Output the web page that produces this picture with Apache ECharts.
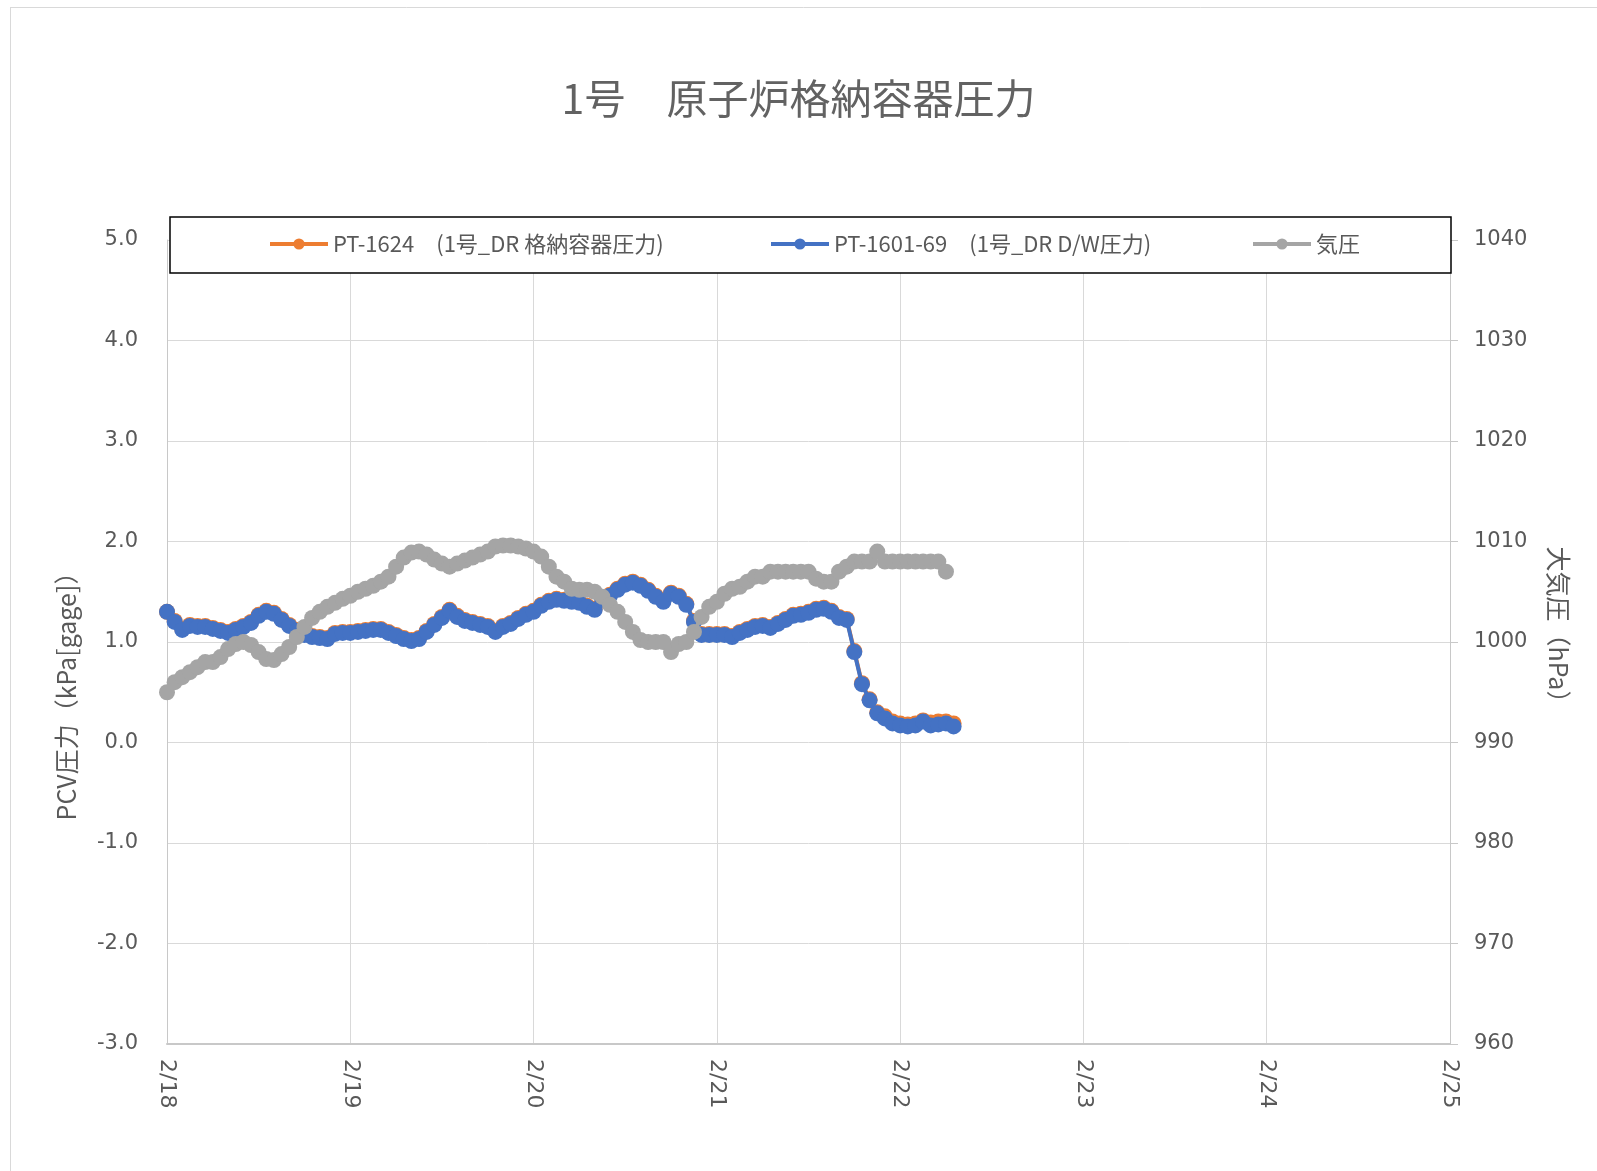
<!DOCTYPE html>
<html>
<head>
<meta charset="utf-8">
<script src="https://cdn.jsdelivr.net/npm/echarts@6/dist/echarts.min.js"></script>
<style>
  html, body { margin: 0; padding: 0; background: #fff; }
  #chart { width: 1597px; height: 1171px; }
</style>
</head>
<body>
<div id="chart"></div>
<script>
// ---- data (hourly samples starting 2/18 00:00) ----
const dayLabels = ['2/18', '2/19', '2/20', '2/21', '2/22', '2/23', '2/24', '2/25'];
const seriesNames = ['PT-1624\u3000(1号_DR 格納容器圧力)', 'PT-1601-69\u3000(1号_DR D/W圧力)', '気圧'];

// PT-1601-69 (kPa[gage])
const dw_0218 = [1.30, 1.20, 1.12, 1.16, 1.15, 1.15, 1.13, 1.11, 1.09, 1.12, 1.15, 1.19, 1.26, 1.30, 1.28, 1.22, 1.16, 1.11, 1.07, 1.05, 1.04, 1.03, 1.08, 1.09];
const dw_0219 = [1.09, 1.10, 1.11, 1.12, 1.12, 1.09, 1.06, 1.03, 1.01, 1.03, 1.10, 1.17, 1.24, 1.31, 1.25, 1.21, 1.19, 1.17, 1.15, 1.10, 1.15, 1.18, 1.23, 1.27];
const dw_0220 = [1.30, 1.36, 1.40, 1.42, 1.41, 1.40, 1.39, 1.35, 1.32, 1.42, 1.46, 1.52, 1.57, 1.59, 1.56, 1.51, 1.45, 1.40, 1.48, 1.45, 1.37, 1.20, 1.07, 1.07];
const dw_0221 = [1.07, 1.07, 1.05, 1.09, 1.12, 1.15, 1.16, 1.14, 1.18, 1.22, 1.26, 1.27, 1.29, 1.32, 1.33, 1.30, 1.24, 1.22, 0.90, 0.58, 0.42, 0.29, 0.24, 0.19];
const dw_0222 = [0.17, 0.16, 0.17, 0.21, 0.17, 0.18, 0.19, 0.16];

// PT-1624 (kPa[gage]) - almost identical to D/W
const pcv_0218 = [1.30, 1.21, 1.13, 1.17, 1.16, 1.16, 1.14, 1.12, 1.10, 1.13, 1.16, 1.20, 1.27, 1.31, 1.29, 1.23, 1.17, 1.12, 1.08, 1.06, 1.05, 1.04, 1.09, 1.10];
const pcv_0219 = [1.10, 1.11, 1.12, 1.13, 1.13, 1.10, 1.07, 1.04, 1.02, 1.04, 1.11, 1.18, 1.25, 1.32, 1.26, 1.22, 1.20, 1.18, 1.16, 1.11, 1.16, 1.19, 1.24, 1.28];
const pcv_0220 = [1.31, 1.37, 1.41, 1.43, 1.42, 1.41, 1.40, 1.36, 1.33, 1.43, 1.47, 1.53, 1.58, 1.60, 1.57, 1.52, 1.46, 1.41, 1.49, 1.46, 1.38, 1.21, 1.08, 1.08];
const pcv_0221 = [1.08, 1.08, 1.06, 1.10, 1.13, 1.16, 1.17, 1.15, 1.19, 1.23, 1.27, 1.28, 1.30, 1.33, 1.34, 1.31, 1.25, 1.23, 0.91, 0.59, 0.43, 0.30, 0.26, 0.21];
const pcv_0222 = [0.19, 0.18, 0.19, 0.22, 0.20, 0.21, 0.21, 0.19];

// 気圧 (hPa)
const atm_0218 = [995, 996, 996.5, 997, 997.5, 998, 998, 998.5, 999.3, 999.8, 1000, 999.7, 999, 998.3, 998.2, 998.8, 999.5, 1000.5, 1001.5, 1002.4, 1003, 1003.5, 1003.9, 1004.3];
const atm_0219 = [1004.6, 1005, 1005.3, 1005.6, 1006, 1006.5, 1007.5, 1008.4, 1008.9, 1009, 1008.7, 1008.2, 1007.8, 1007.5, 1007.8, 1008.1, 1008.4, 1008.7, 1009, 1009.5, 1009.6, 1009.6, 1009.5, 1009.3];
const atm_0220 = [1009, 1008.5, 1007.5, 1006.5, 1006, 1005.3, 1005.2, 1005.2, 1005, 1004.5, 1003.7, 1003, 1002, 1001, 1000.2, 1000, 1000, 1000, 999, 999.8, 1000, 1001, 1002.5, 1003.5];
const atm_0221 = [1004, 1004.8, 1005.3, 1005.5, 1006, 1006.5, 1006.5, 1007, 1007, 1007, 1007, 1007, 1007, 1006.3, 1006, 1006, 1007, 1007.5, 1008, 1008, 1008, 1009, 1008, 1008];
const atm_0222 = [1008, 1008, 1008, 1008, 1008, 1008, 1007];

function toPoints(values) { return values.map((v, i) => [i, v]); } // i = hours since 2/18 00:00

const pcv = toPoints([].concat(pcv_0218, pcv_0219, pcv_0220, pcv_0221, pcv_0222));
const dw = toPoints([].concat(dw_0218, dw_0219, dw_0220, dw_0221, dw_0222));
const atm = toPoints([].concat(atm_0218, atm_0219, atm_0220, atm_0221, atm_0222));

const txt = '#595959';
const cjk = '"Noto Sans CJK JP", "Noto Sans", sans-serif';
const num = '"DejaVu Sans", sans-serif';

const chart = echarts.init(document.getElementById('chart'), null, { renderer: 'canvas' });

function legendAt(name, left) {
  return {
    data: [name], left: left, top: 233, padding: 0, z: 10,
    itemWidth: 58, itemHeight: 14, selectedMode: false,
    lineStyle: { width: 4 },
    textStyle: { fontSize: 22, color: txt, fontFamily: cjk }
  };
}

chart.setOption({
  animation: false,
  backgroundColor: '#fff',
  title: {
    text: '1号\u3000原子炉格納容器圧力',
    left: 'center', top: 73,
    textStyle: { fontSize: 41, fontWeight: 'normal', color: '#626262', fontFamily: cjk }
  },
  legend: [legendAt(seriesNames[0], 268), legendAt(seriesNames[1], 769), legendAt(seriesNames[2], 1251)],
  grid: { left: 167, right: 147, top: 240, bottom: 127, containLabel: false },
  xAxis: {
    type: 'value', min: 0, max: 168, interval: 24,
    axisLine: { onZero: false, lineStyle: { color: '#c8c8c8', width: 2 } },
    axisTick: { show: false },
    splitLine: { show: true, lineStyle: { color: '#d9d9d9', width: 1 } },
    axisLabel: {
      rotate: -90, margin: 15, fontSize: 22, color: txt, fontFamily: num,
      formatter: v => dayLabels[Math.round(v / 24)]
    }
  },
  yAxis: [
    {
      type: 'value', min: -3, max: 5, interval: 1, position: 'left',
      axisLine: { show: true, lineStyle: { color: '#c8c8c8', width: 1 } },
      axisTick: { show: false },
      splitLine: { show: true, lineStyle: { color: '#d9d9d9', width: 1 } },
      axisLabel: { margin: 29, fontSize: 21, color: txt, fontFamily: num, formatter: v => v.toFixed(1) }
    },
    {
      type: 'value', min: 960, max: 1040, interval: 10, position: 'right',
      axisLine: { show: true, lineStyle: { color: '#c8c8c8', width: 1 } },
      axisTick: { show: true, length: 8, lineStyle: { color: '#c8c8c8' } },
      splitLine: { show: false },
      axisLabel: { margin: 24, fontSize: 21, color: txt, fontFamily: num, formatter: v => String(v) }
    }
  ],
  graphic: [
    { type: 'line', shape: { x1: 10, y1: 7.5, x2: 1597, y2: 7.5 }, style: { stroke: '#d9d9d9', lineWidth: 1 }, silent: true },
    { type: 'line', shape: { x1: 10.5, y1: 7, x2: 10.5, y2: 1171 }, style: { stroke: '#d9d9d9', lineWidth: 1 }, silent: true },
    { type: 'rect', shape: { x: 170, y: 217, width: 1281, height: 56 }, style: { fill: '#fff', stroke: '#000', lineWidth: 1.5 }, z: 5, silent: true },
    { type: 'text', x: 66, y: 690, rotation: Math.PI / 2, z: 5,
      style: { text: 'PCV圧力（kPa[gage]）', fontSize: 25, fill: txt, fontFamily: cjk, textAlign: 'center', textVerticalAlign: 'middle' } },
    { type: 'text', x: 1558, y: 631, rotation: -Math.PI / 2, z: 5,
      style: { text: '大気圧（hPa）', fontSize: 25, fill: txt, fontFamily: cjk, textAlign: 'center', textVerticalAlign: 'middle' } }
  ],
  series: [
    { name: seriesNames[0], type: 'line', yAxisIndex: 0, data: pcv, symbol: 'circle', symbolSize: 16, showSymbol: true,
      lineStyle: { color: '#ED7D31', width: 4 }, itemStyle: { color: '#ED7D31' }, z: 2 },
    { name: seriesNames[1], type: 'line', yAxisIndex: 0, data: dw, symbol: 'circle', symbolSize: 16, showSymbol: true,
      lineStyle: { color: '#4472C4', width: 4 }, itemStyle: { color: '#4472C4' }, z: 3 },
    { name: seriesNames[2], type: 'line', yAxisIndex: 1, data: atm, symbol: 'circle', symbolSize: 16, showSymbol: true,
      lineStyle: { color: '#A5A5A5', width: 4 }, itemStyle: { color: '#A5A5A5' }, z: 4 }
  ]
});
</script>
</body>
</html>
